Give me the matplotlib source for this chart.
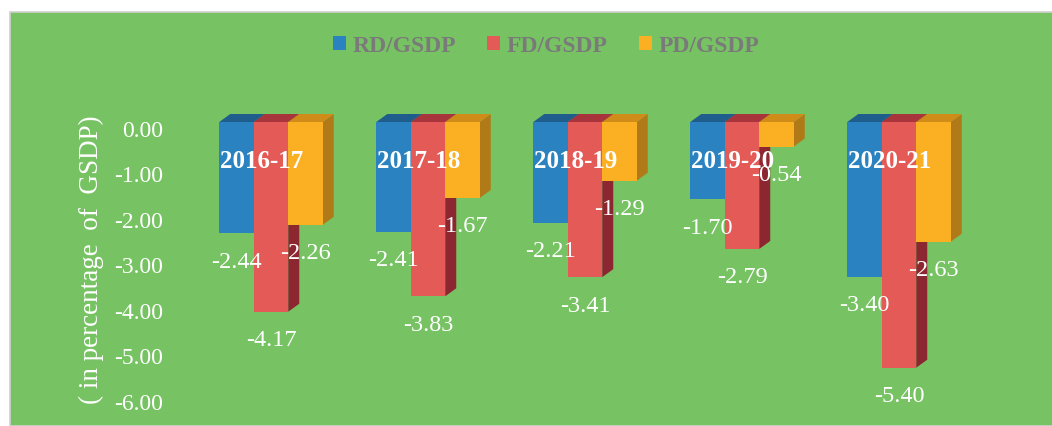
import matplotlib.pyplot as plt
from matplotlib.patches import Polygon, Rectangle, Patch
from matplotlib.transforms import ScaledTranslation

plt.rcParams['font.family'] = ['Liberation Serif', 'DejaVu Serif']

years = ["2016-17", "2017-18", "2018-19", "2019-20", "2020-21"]
series = ["RD/GSDP", "FD/GSDP", "PD/GSDP"]
rd = [-2.44, -2.41, -2.21, -1.70, -3.40]
fd = [-4.17, -3.83, -3.41, -2.79, -5.40]
pd_ = [-2.26, -1.67, -1.29, -0.54, -2.63]
yticks = [0, -1, -2, -3, -4, -5, -6]

front = ["#2a83c0", "#e45a56", "#fbb023"]
top = ["#1f5e8c", "#a8353b", "#d08c18"]
side = ["#1b5580", "#8c2630", "#b07a18"]
bg = "#77c363"

W, H = 1052, 427
fig = plt.figure(figsize=(W / 100, H / 100), dpi=100)
fig.patch.set_facecolor("white")
fig.patches.append(Rectangle((10 / W, 0), 1, 1 - 13 / H, transform=fig.transFigure,
                             facecolor=bg, edgecolor="#d0d0d0", linewidth=1.2, zorder=-5))

ax_l, ax_r, ax_t, ax_b = 170, 1040, 100, 420
ax = fig.add_axes([ax_l / W, 1 - ax_b / H, (ax_r - ax_l) / W, (ax_b - ax_t) / H])
ax.patch.set_alpha(0)
px_x = 157.0   # pixels per group
px_y = 45.5    # pixels per unit
ax.set_xlim(-(271 - ax_l) / px_x, (ax_r - 271) / px_x)
ax.set_ylim(-(ax_b - 123) / px_y, (123 - ax_t) / px_y)

bw = 34.5 / px_x
dx = 11 / px_x
dy = 8 / px_y

z = 2
for i in range(len(years)):
    for k, vals in enumerate([rd, fd, pd_]):
        v = vals[i]
        x0 = i + (k - 1.5) * bw
        x1 = x0 + bw
        # 3d look: side and top faces behind the front face
        ax.add_patch(Polygon([(x1, 0), (x1 + dx, dy), (x1 + dx, v + dy), (x1, v)],
                             closed=True, facecolor=side[k], edgecolor="none", zorder=z))
        ax.add_patch(Polygon([(x0, 0), (x1, 0), (x1 + dx, dy), (x0 + dx, dy)],
                             closed=True, facecolor=top[k], edgecolor="none", zorder=z))
        ax.bar(x0, v, width=bw, align="edge", color=front[k], zorder=z + 0.5)
        ax.annotate(f"{v:.2f}", (x0 + bw / 2, v), xytext=(0, -28), textcoords="offset pixels",
                    ha="center", va="center", color="white", fontsize=17.5, zorder=20)
        z += 1
    ax.text(i - 0.06, -0.84, years[i], ha="center", va="center", color="white",
            fontsize=18, fontweight="bold", zorder=20)

ax.set_xticks([])
ax.set_yticks(yticks)
ax.set_yticklabels([f"{t:.2f}" for t in yticks])
ax.tick_params(axis="y", length=0, pad=5, labelsize=17, labelcolor="white")
for lab in ax.get_yticklabels():
    lab.set_transform(lab.get_transform() + ScaledTranslation(0, -6 / 100, fig.dpi_scale_trans))
for s in ax.spines.values():
    s.set_visible(False)

ax.set_ylabel("( in percentage  of  GSDP)", color="white", fontsize=19.5)
ax.yaxis.set_label_coords((104 - ax_l) / (ax_r - ax_l), (ax_b - 260) / (ax_b - ax_t))

handles = [Patch(facecolor=c, edgecolor="none") for c in front]
fig.legend(handles, series, loc="center", bbox_to_anchor=(546 / W, 1 - 47 / H), ncol=3,
           frameon=False, handlelength=0.55, handleheight=0.55, handletextpad=0.3,
           columnspacing=1.3, prop={"weight": "bold", "size": 17}, labelcolor="#7a7a7a")

fig.savefig("out.png", dpi=100)
